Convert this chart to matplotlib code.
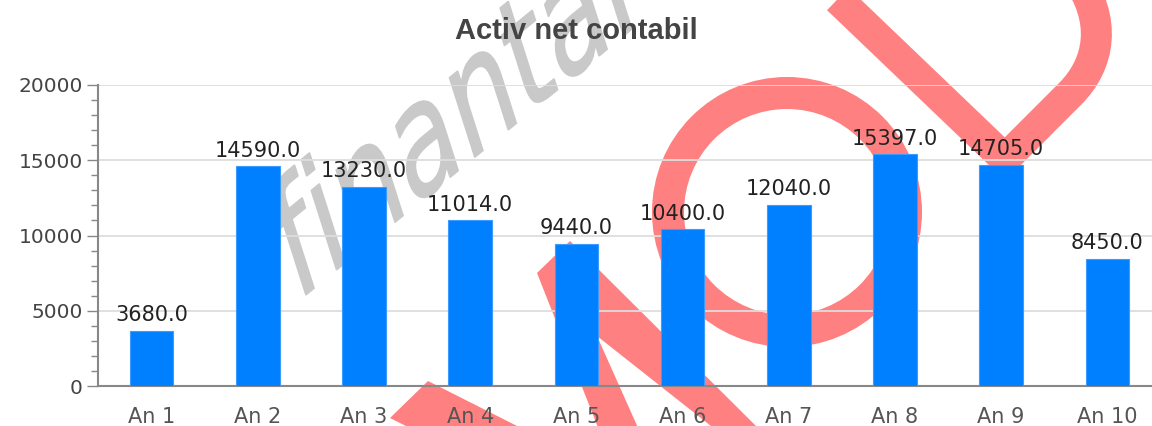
import numpy as np
import matplotlib.pyplot as plt
from matplotlib.path import Path
from matplotlib.patches import PathPatch, Circle, Polygon
from matplotlib.textpath import TextPath
from matplotlib.font_manager import FontProperties
from matplotlib.transforms import Affine2D
from matplotlib.ticker import MultipleLocator

plt.rcParams['font.family'] = 'DejaVu Sans'

years = ['An 1', 'An 2', 'An 3', 'An 4', 'An 5', 'An 6', 'An 7', 'An 8', 'An 9', 'An 10']
values = [3680.0, 14590.0, 13230.0, 11014.0, 9440.0, 10400.0, 12040.0, 15397.0, 14705.0, 8450.0]
y_ticks = [0, 5000, 10000, 15000, 20000]

fig = plt.figure(figsize=(11.52, 4.26), dpi=100)

# watermark layer, drawn in pixel coordinates of the picture (y down)
bg = fig.add_axes([0, 0, 1, 1], zorder=0)
bg.set_xlim(0, 1152)
bg.set_ylim(426, 0)
bg.axis('off')

red = '#ff8080'
gray = '#c9c9c9'
px = 72 / 100  # points per pixel

# stretched, rotated "finantare" text
word = TextPath((0, 0), 'finantare', size=102, prop=FontProperties(family='DejaVu Sans'))
skew = Affine2D().rotate_deg(27).scale(1, -1.6).translate(296, 303)
bg.add_patch(PathPatch(word, transform=skew + bg.transData, facecolor=gray,
                       edgecolor=gray, lw=1.5 * px))

# red logo pieces
heart = Path([(797, -40), (1005, 159), (1070, 94), (1100, 64), (1108, 20), (1075, -25)],
             [Path.MOVETO, Path.LINETO, Path.LINETO, Path.CURVE4, Path.CURVE4, Path.CURVE4])
bg.add_patch(PathPatch(heart, fill=False, edgecolor=red, lw=31 * px,
                       joinstyle='miter', capstyle='butt'))
bg.add_patch(Circle((787, 212), 119, fill=False, edgecolor=red, lw=32 * px))
bg.add_patch(Polygon([(537, 273), (570, 241), (760, 430), (716, 430), (597, 336),
                      (639, 430), (599, 430)], closed=True, facecolor=red, lw=0))
bg.add_patch(Polygon([(390, 418), (428, 381), (525, 430), (414, 430)],
                     closed=True, facecolor=red, lw=0))

# the chart itself
ax = fig.add_axes([98 / 1152, 1 - 386 / 426, 1 - 98 / 1152, 301 / 426], zorder=1)
ax.set_facecolor('none')

x = np.arange(len(years))
ax.bar(x, values, width=0.41, color='#0080ff', edgecolor='#3d9bff', linewidth=0.8, zorder=3)

ax.set_xlim(-0.504, 9.42)
ax.set_ylim(0, 20000)
ax.set_yticks(y_ticks)
ax.yaxis.set_minor_locator(MultipleLocator(1000))
ax.set_xticks(x, years)
ax.grid(axis='y', color='#dddddd', lw=1.3)
ax.set_axisbelow(True)

for s in ['top', 'right']:
    ax.spines[s].set_visible(False)
for s in ['left', 'bottom']:
    ax.spines[s].set_color('#888888')
    ax.spines[s].set_linewidth(1.5)

ax.tick_params(axis='y', which='major', length=8, width=1, color='#888888',
               labelsize=14.5, labelcolor='#444444', pad=3)
ax.tick_params(axis='y', which='minor', length=5, width=1, color='#888888')
ax.tick_params(axis='x', length=0, pad=15, labelsize=15, labelcolor='#555555')

for xi, v in zip(x, values):
    ax.annotate(f'{v:.1f}', (xi, v), xytext=(0, 7), textcoords='offset points',
                ha='center', va='baseline', fontsize=15, color='#222222',
                annotation_clip=False)

fig.text(0.5, 1 - 39 / 426, 'Activ net contabil', ha='center', va='baseline',
         fontsize=21, fontweight='bold', color='#444444', family='Liberation Sans')

fig.savefig('out.png', dpi=100)
